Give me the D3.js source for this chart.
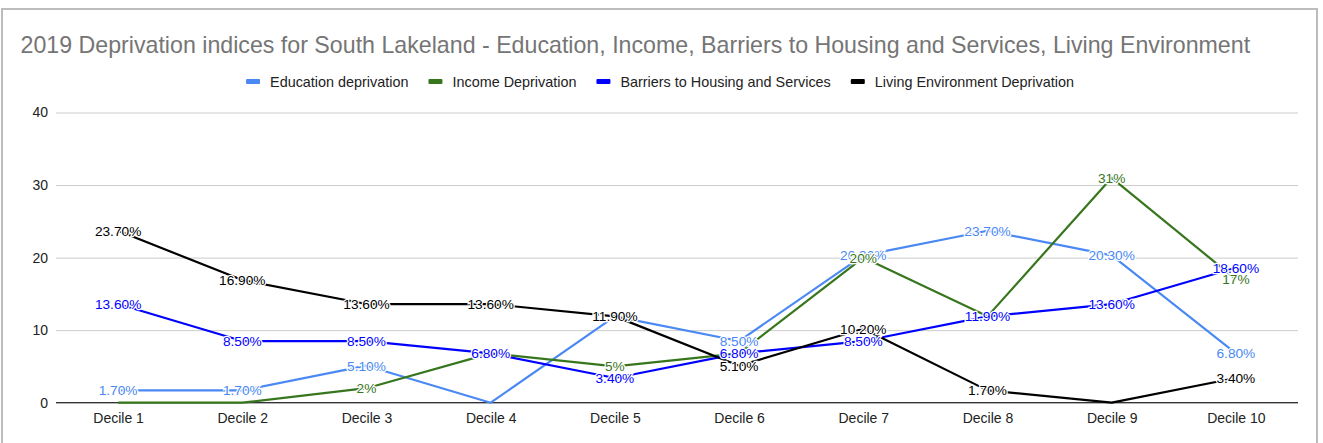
<!DOCTYPE html>
<html>
<head>
<meta charset="utf-8">
<script src="https://cdn.jsdelivr.net/npm/d3@7"></script>
<style>
  html, body { margin: 0; padding: 0; background: #fff; }
  svg { display: block; font-family: Arial, "Liberation Sans", sans-serif; }
</style>
</head>
<body>
<svg id="chart" width="1323" height="443"></svg>
<script>
const titleText = "2019 Deprivation indices for South Lakeland - Education, Income, Barriers to Housing and Services, Living Environment";
const categories = ["Decile 1","Decile 2","Decile 3","Decile 4","Decile 5","Decile 6","Decile 7","Decile 8","Decile 9","Decile 10"];
const seriesNames = ["Education deprivation","Income Deprivation","Barriers to Housing and Services","Living Environment Deprivation"];
const educationValues = [1.7, 1.7, 5.1, 0, 11.9, 8.5, 20.3, 23.7, 20.3, 6.8];
const incomeValues    = [0, 0, 2, 6.8, 5, 6.8, 20, 11.9, 31, 17];
const barriersValues  = [13.6, 8.5, 8.5, 6.8, 3.4, 6.8, 8.5, 11.9, 13.6, 18.6];
const livingValues    = [23.7, 16.9, 13.6, 13.6, 11.9, 5.1, 10.2, 1.7, 0, 3.4];
const educationLabels = ["1.70%","1.70%","5.10%","","","8.50%","20.30%","23.70%","20.30%","6.80%"];
const incomeLabels    = ["","","2%","","5%","","20%","","31%","17%"];
const barriersLabels  = ["13.60%","8.50%","8.50%","6.80%","3.40%","6.80%","8.50%","11.90%","13.60%","18.60%"];
const livingLabels    = ["23.70%","16.90%","13.60%","13.60%","11.90%","5.10%","10.20%","1.70%","","3.40%"];
const yTicks = [0, 10, 20, 30, 40];
const colors = ["#4a89f3", "#38761d", "#0000ff", "#000000"];

const series = [
  {name: seriesNames[0], values: educationValues, labels: educationLabels, color: colors[0]},
  {name: seriesNames[1], values: incomeValues, labels: incomeLabels, color: colors[1]},
  {name: seriesNames[2], values: barriersValues, labels: barriersLabels, color: colors[2]},
  {name: seriesNames[3], values: livingValues, labels: livingLabels, color: colors[3]}
];

const FONT = "Arial, 'Liberation Sans', sans-serif";
const svg = d3.select("#chart");
const plot = {left: 56, right: 1298, top: 112.5, bottom: 402.7};

// border
svg.append("rect").attr("x", 2).attr("y", 9).attr("width", 1315).attr("height", 440)
  .attr("fill", "#fff").attr("stroke", "#bdbdbd").attr("stroke-width", 2);

// title
svg.append("text").attr("x", 20.5).attr("y", 52.5)
  .attr("font-size", 23.2).attr("fill", "#757575").text(titleText);

const x = d3.scalePoint().domain(categories).range([plot.left, plot.right]).padding(0.5);
const y = d3.scaleLinear().domain([0, 40]).range([plot.bottom, plot.top]);

// y gridlines + labels
const yAxis = d3.axisLeft(y).tickValues(yTicks).tickSize(-(plot.right - plot.left)).tickPadding(8).tickFormat(d3.format("d"));
const gy = svg.append("g").attr("transform", `translate(${plot.left},0)`).call(yAxis);
gy.select(".domain").remove();
gy.selectAll(".tick line").attr("stroke", "#cccccc").attr("stroke-width", 1);
gy.selectAll(".tick text").attr("font-size", 14).attr("fill", "#222").attr("font-family", FONT);

// x axis
const xAxis = d3.axisBottom(x).tickSize(0).tickPadding(10);
const gx = svg.append("g").attr("transform", `translate(0,${plot.bottom})`).call(xAxis);
gx.select(".domain").attr("d", `M${plot.left},0H${plot.right}`).attr("stroke", "#333").attr("stroke-width", 1.3);
gx.selectAll(".tick text").attr("font-size", 14).attr("fill", "#222").attr("font-family", FONT);

// lines
const line = d3.line().x((d, i) => x(categories[i])).y(d => y(d));
const linesG = svg.append("g").attr("class", "lines");
series.forEach(s => {
  linesG.append("path").datum(s.values).attr("d", line)
    .attr("fill", "none").attr("stroke", s.color).attr("stroke-width", 2.2)
    .attr("stroke-linejoin", "round");
});

// data labels
const labelsG = svg.append("g").attr("class", "labels");
series.forEach(s => {
  const idx = s.values.map((v, i) => i).filter(i => s.labels[i] !== "");
  labelsG.append("g").selectAll("text").data(idx).join("text")
    .attr("x", i => x(categories[i]))
    .attr("y", i => y(s.values[i]))
    .attr("dy", "0.36em")
    .attr("text-anchor", "middle")
    .attr("font-size", 13.7)
    .attr("font-family", FONT)
    .attr("fill", s.color)
    .attr("stroke", "#fff").attr("stroke-width", 2.5)
    .attr("paint-order", "stroke")
    .text(i => s.labels[i]);
});

// legend
const legend = svg.append("g").attr("class", "legend");
let cx = 0;
series.forEach(s => {
  const g = legend.append("g").attr("transform", `translate(${cx},0)`);
  g.append("rect").attr("x", 0).attr("y", -2.5).attr("width", 14).attr("height", 5).attr("rx", 1).attr("fill", s.color);
  const t = g.append("text").attr("x", 24).attr("y", 0).attr("dy", "0.35em")
    .attr("font-size", 14.4).attr("font-family", FONT).attr("fill", "#222").text(s.name);
  cx += 24 + t.node().getComputedTextLength() + 20;
});
const total = cx - 20;
legend.attr("transform", `translate(${660 - total / 2},81.5)`);
</script>
</body>
</html>
